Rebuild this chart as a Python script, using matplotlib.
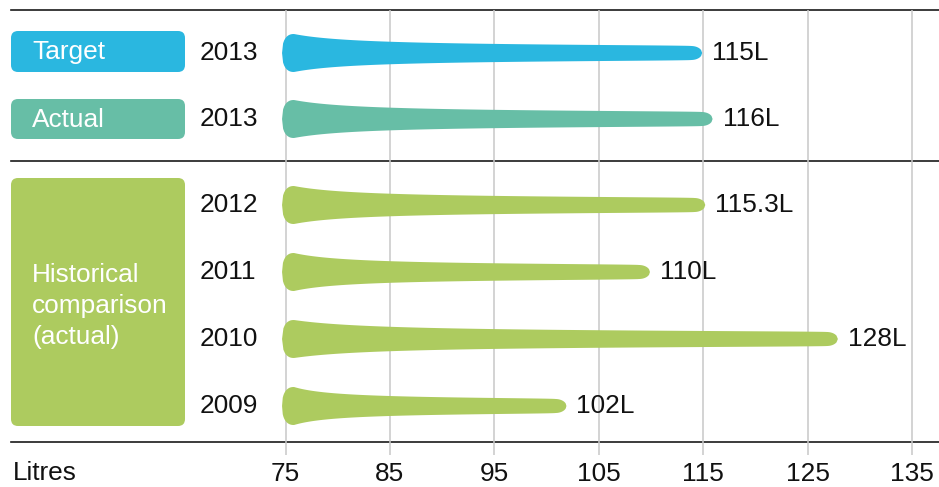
import numpy as np
import matplotlib.pyplot as plt
from matplotlib.patches import FancyBboxPatch, Polygon

plt.rcParams['font.family'] = ['Liberation Sans', 'DejaVu Sans']

# data
years = ['2013', '2013', '2012', '2011', '2010', '2009']
litres = [115, 116, 115.3, 110, 128, 102]
value_labels = ['115L', '116L', '115.3L', '110L', '128L', '102L']
ticks = [75, 85, 95, 105, 115, 125, 135]
groups = ['Target', 'Actual', 'Historical\ncomparison\n(actual)']

BLUE = '#2ab7e0'
TEAL = '#67bea6'
GREEN = '#adcb5f'
row_colors = [BLUE, TEAL, GREEN, GREEN, GREEN, GREEN]

# layout (pixels from top of a 939x487 canvas)
W, H = 939, 487
row_y = [53, 119, 205, 272, 339, 406]
x_lo, x_hi = 47.65, 137.59
ppu = W / (x_hi - x_lo)     # pixels per litre
FS = 18.9

fig = plt.figure(figsize=(W / 100, H / 100), dpi=100)

# background layer in pixel coordinates for boxes, rules and labels
bg = fig.add_axes([0, 0, 1, 1])
bg.set_xlim(0, W)
bg.set_ylim(H, 0)
bg.axis('off')

# main plotting area: x in litres, y in pixels
ax = fig.add_axes([0, (H - 455) / H, 1, 445 / H])
ax.set_facecolor('none')
ax.set_xlim(x_lo, x_hi)
ax.set_ylim(455, 10)
for s in ax.spines.values():
    s.set_visible(False)
ax.set_yticks([])
ax.set_xticks(ticks)
ax.set_xticklabels([str(t) for t in ticks], fontsize=FS, color='#111111')
ax.tick_params(axis='x', length=0, pad=5)
ax.grid(axis='x', color='#c8c8c8', lw=1.1)
ax.set_axisbelow(True)


def teardrop(end_val, yc, color):
    start_px = (75 - x_lo) * ppu - 3.5
    end_px = (end_val - x_lo) * ppu - 1
    L = end_px - start_px
    Hmax, h_end, r, re = 19.0, 7.0, 12.0, 11.0
    d = np.linspace(0, L, 400)
    h = np.empty_like(d)
    head = d < r
    h[head] = Hmax * (1 - ((r - d[head]) / r) ** 2.4) ** (1 / 2.4)
    mid = (d >= r) & (d <= L - re)
    t = (d[mid] - r) / (L - r - re)
    h[mid] = h_end + (Hmax - h_end) * np.sqrt(1 - t) / (1 + 6 * t)
    tail = d > L - re
    u = (d[tail] - (L - re)) / re
    h[tail] = h_end * np.sqrt(np.clip(1 - u ** 2, 0, 1))
    xs = (start_px + d) / ppu + x_lo
    pts = np.concatenate([np.column_stack([xs, yc - h]),
                          np.column_stack([xs[::-1], yc + h[::-1]])])
    ax.add_patch(Polygon(pts, closed=True, facecolor=color, edgecolor='none', zorder=3))


for val, lab, yc, col in zip(litres, value_labels, row_y, row_colors):
    teardrop(val, yc, col)
    ax.text(val + 9 / ppu, yc, lab, fontsize=FS, color='#111111', va='center', ha='left', zorder=4)

for yr, yc in zip(years, row_y):
    bg.text(200, yc, yr, fontsize=FS, color='#111111', va='center', ha='left')

# group boxes on the left
boxes = [(31, 72, BLUE), (99, 139, TEAL), (178, 426, GREEN)]
for (y0, y1, col) in boxes:
    bg.add_patch(FancyBboxPatch((11, y0), 174, y1 - y0,
                                boxstyle='round,pad=0,rounding_size=7',
                                facecolor=col, edgecolor='none'))
bg.text(32, 52, groups[0], fontsize=FS, color='white', va='center', ha='left')
bg.text(32, 120, groups[1], fontsize=FS, color='white', va='center', ha='left')
bg.text(32, 306, groups[2], fontsize=FS, color='white', va='center', ha='left', linespacing=1.37)

# horizontal rules
for y in [9.5, 160.5, 442]:
    bg.plot([11, W], [y, y], color='#1a1a1a', lw=1.2)

bg.text(13, 473, 'Litres', fontsize=FS, color='#111111', va='center', ha='left')

fig.savefig('out.png', dpi=100)
